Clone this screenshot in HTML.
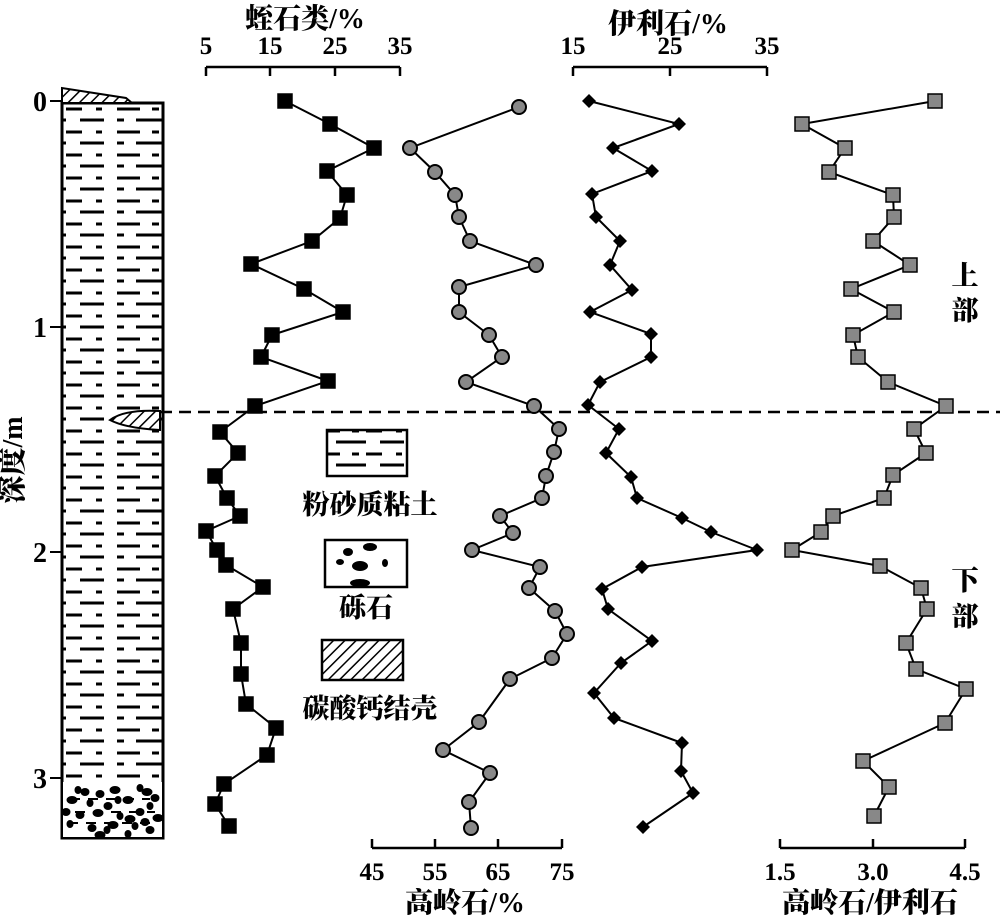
<!DOCTYPE html>
<html><head><meta charset="utf-8"><style>
html,body{margin:0;padding:0;background:#fff}
svg{display:block}
text{font-family:"Liberation Serif","Noto Serif CJK SC","Noto Sans CJK SC",serif;font-weight:900;fill:#000}
</style></head><body>
<svg id="s" width="1000" height="919" viewBox="0 0 1000 919" xmlns="http://www.w3.org/2000/svg">
<defs>
<pattern id="silt" width="100" height="23" patternUnits="userSpaceOnUse" x="62" y="103">
<rect width="100" height="23" fill="#fff"/>
<g stroke="#000" stroke-width="3">
<line x1="4" y1="6" x2="20" y2="6"/><line x1="34" y1="6" x2="40" y2="6"/><line x1="55" y1="6" x2="78" y2="6"/><line x1="90" y1="6" x2="97" y2="6"/>
<line x1="0" y1="17" x2="4" y2="17"/><line x1="18" y1="17" x2="42" y2="17"/><line x1="55" y1="17" x2="62" y2="17"/><line x1="74" y1="17" x2="100" y2="17"/>
</g></pattern>
<pattern id="hatch" width="8" height="8" patternUnits="userSpaceOnUse" patternTransform="rotate(45)">
<rect width="8" height="8" fill="#fff"/><line x1="0" y1="0" x2="0" y2="8" stroke="#000" stroke-width="3"/>
</pattern>
</defs>
<g id="g"></g>
<text x="305" y="28" font-size="28" text-anchor="middle">蛭石类/%</text>
<text x="668" y="33" font-size="28" text-anchor="middle">伊利石/%</text>
<text x="465" y="912" font-size="28" text-anchor="middle">高岭石/%</text>
<text x="870" y="912" font-size="28" text-anchor="middle">高岭石/伊利石</text>
<text transform="translate(22,460) rotate(-90)" font-size="28" text-anchor="middle">深度/m</text>
<text x="965" y="285" font-size="27" text-anchor="middle">上</text>
<text x="965" y="320" font-size="27" text-anchor="middle">部</text>
<text x="965" y="590" font-size="27" text-anchor="middle">下</text>
<text x="965" y="626" font-size="27" text-anchor="middle">部</text>
<text x="370" y="514" font-size="27" text-anchor="middle">粉砂质粘土</text>
<text x="366" y="617" font-size="27" text-anchor="middle">砾石</text>
<text x="370" y="718" font-size="27" text-anchor="middle">碳酸钙结壳</text>
</svg>
<script>
var g=document.getElementById('g'),h='';
function L(a,b,c,d,w,ex){h+='<line x1="'+a+'" y1="'+b+'" x2="'+c+'" y2="'+d+'" stroke="#000" stroke-width="'+(w||2)+'" '+(ex||'')+'/>';}
function T(x,y,s,sz){h+='<text x="'+x+'" y="'+y+'" font-size="'+(sz||22)+'" text-anchor="middle">'+s+'</text>';}
h+='<rect x="62" y="103" width="101" height="735" fill="url(#silt)" stroke="#000" stroke-width="3"/>';
h+='<rect x="63" y="782" width="99" height="55" fill="#fff"/>';
var gy=[[78,790],[100,794],[115,790],[140,788],[155,798],[72,800],[90,803],[108,806],[128,800],[150,806],[80,815],[98,813],[120,816],[140,812],[158,818],[70,824],[92,828],[113,825],[135,826],[150,830],[100,835],[128,834],[85,792],[147,792],[118,800],[66,812],[130,819],[107,830],[145,822]];
gy.forEach(function(p,i){h+='<ellipse cx="'+p[0]+'" cy="'+p[1]+'" rx="'+(3.5+i%3)+'" ry="4" fill="#000"/>';});
[[70,799,150],[75,812,155],[68,823,150]].forEach(function(l){L(l[0],l[1],l[2],l[1],2,'stroke-dasharray="10 8"');});
h+='<path d="M62,88 L62,103 L132,103 L126,98 Z" fill="url(#hatch)" stroke="#000" stroke-width="2"/>';
h+='<path d="M110,420 Q125,409 160,411 L160,430 Q125,428 110,420 Z" fill="url(#hatch)" stroke="#000" stroke-width="2"/>';
[[0,101],[1,327],[2,552],[3,778]].forEach(function(d){L(50,d[1],62,d[1],2);T(40,d[1]+10,d[0],28);});
L(160,412,1000,412,2.5,'stroke-dasharray="12 7"');
function axT(x0,x1,y,ticks,labs,up){L(x0,y,x1,y,2.5);ticks.forEach(function(t,i){L(t,y,t,y+(up?-9:9),2.5);T(t,up?y+32:y-13,labs[i],25);});}
axT(206,400,67,[206,270,335,400],[5,15,25,35],false);
axT(573,767,67,[573,670,767],[15,25,35],false);
axT(372,562,848,[372,435,498,562],[45,55,65,75],true);
axT(780,965,848,[780,873,965],['1.5','3.0','4.5'],true);
function series(pts,shape,fill){var p='';pts.forEach(function(q){p+=q[0]+','+q[1]+' ';});
h+='<polyline points="'+p+'" fill="none" stroke="#000" stroke-width="2"/>';
pts.forEach(function(q){var x=q[0],y=q[1];
if(shape=='sq')h+='<rect x="'+(x-7)+'" y="'+(y-7)+'" width="14" height="14" fill="'+fill+'" stroke="#000" stroke-width="1.5"/>';
else if(shape=='c')h+='<circle cx="'+x+'" cy="'+y+'" r="7" fill="'+fill+'" stroke="#000" stroke-width="2"/>';
else h+='<path d="M'+x+','+(y-7)+' L'+(x+7)+','+y+' L'+x+','+(y+7)+' L'+(x-7)+','+y+' Z" fill="#000"/>';});}
series([[285,101],[330,124],[374,148],[327,171],[347,195],[340,218],[312,241],[251,264],[304,289],[343,312],[272,335],[261,357],[328,381],[255,406],[220,432],[238,453],[215,476],[227,498],[240,516],[206,531],[217,550],[226,565],[263,587],[233,609],[241,643],[241,674],[246,704],[276,728],[267,755],[224,784],[215,804],[229,826]],'sq','#000');
series([[519,107],[410,148],[435,172],[455,195],[459,217],[470,241],[536,265],[459,287],[459,312],[489,335],[502,357],[466,382],[534,406],[559,429],[554,452],[546,476],[542,498],[500,516],[513,533],[472,550],[540,567],[529,588],[555,611],[567,634],[552,658],[510,679],[479,722],[443,750],[490,773],[469,802],[471,828]],'c','#888');
series([[589,101],[679,124],[613,148],[652,171],[592,194],[596,217],[620,241],[610,265],[632,290],[590,312],[651,334],[651,357],[600,382],[588,405],[619,429],[606,453],[631,477],[637,498],[682,518],[711,532],[757,550],[642,567],[602,589],[608,609],[652,641],[621,663],[594,693],[614,718],[682,743],[681,771],[693,793],[643,827]],'d','#000');
series([[935,101],[802,124],[845,148],[829,172],[893,195],[894,217],[873,241],[910,265],[851,289],[894,312],[853,335],[858,357],[888,382],[946,406],[914,429],[926,453],[893,475],[884,498],[833,516],[821,532],[792,550],[880,566],[921,588],[927,609],[906,643],[916,669],[966,689],[945,723],[863,761],[889,787],[874,816]],'sq','#888');
h+='<rect x="327" y="430" width="80" height="46" fill="url(#silt)" stroke="#000" stroke-width="2.5"/>';
h+='<rect x="325" y="540" width="82" height="47" fill="#fff" stroke="#000" stroke-width="2.5"/>';
[[348,552,5,4],[370,547,7,4],[340,562,4,3],[360,566,8,5],[385,563,3,4],[360,583,10,4]].forEach(function(e){h+='<ellipse cx="'+e[0]+'" cy="'+e[1]+'" rx="'+e[2]+'" ry="'+e[3]+'" fill="#000"/>';});
h+='<rect x="322" y="640" width="81" height="40" fill="url(#hatch)" stroke="#000" stroke-width="2.5"/>';
g.innerHTML=h;
</script>
</body></html>
